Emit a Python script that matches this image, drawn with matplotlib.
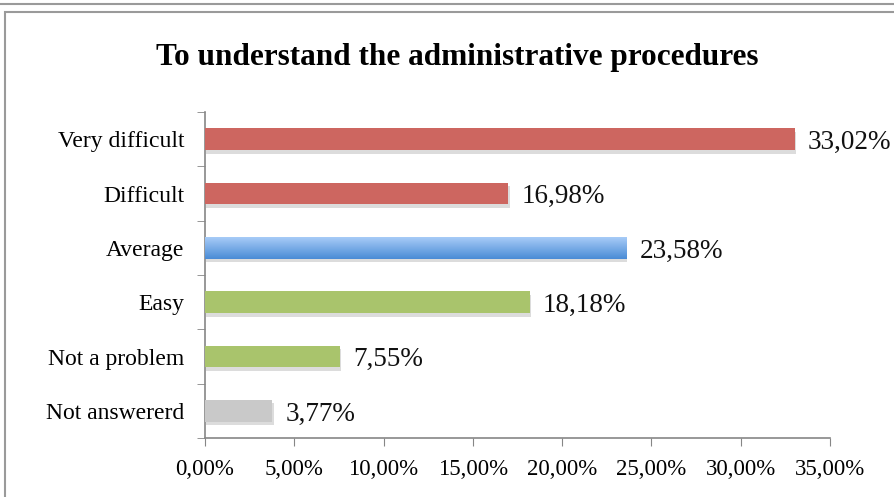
import matplotlib
matplotlib.use("Agg")
import matplotlib.pyplot as plt
import matplotlib.patheffects as pe
from matplotlib.patches import Rectangle
from matplotlib.lines import Line2D
import numpy as np

plt.rcParams['font.family'] = ['Liberation Serif', 'DejaVu Serif']

categories = ["Very difficult", "Difficult", "Average", "Easy", "Not a problem", "Not answererd"]
values = [33.02, 16.98, 23.58, 18.18, 7.55, 3.77]
colors = ["#CD6660", "#CD6660", "#6FA8E8", "#A9C46C", "#A9C46C", "#C9C9C9"]
xticks = [0, 5, 10, 15, 20, 25, 30, 35]

fig = plt.figure(figsize=(8.95, 4.97), dpi=100)
ax = fig.add_axes([205/895, 1 - 438/497, 625/895, 326/497])

y = np.arange(len(categories))
shadow = [pe.SimplePatchShadow(offset=(1, -2.5), shadow_rgbFace='#777777', alpha=0.25), pe.Normal()]
bars = ax.barh(y, values, height=0.4, color=colors, path_effects=shadow, zorder=3)

# gradient for the "Average" bar
b = bars[2]
grad = np.linspace(0, 1, 50).reshape(-1, 1)
cmap = matplotlib.colors.LinearSegmentedColormap.from_list("g", ["#A7CBF7", "#4A8CD6"])
x0, y0, w, h = b.get_x(), b.get_y(), b.get_width(), b.get_height()
ax.imshow(grad, cmap=cmap, aspect='auto', extent=[x0, x0 + w, y0 + h, y0], zorder=4)

for v, yy in zip(values, y):
    ax.text(v + 0.75, yy + 0.06, f"{v:.2f}".replace('.', ',') + '%', va='center', ha='left',
            fontsize=19.5, color='#111111')

ax.set_xlim(0, 35)
ax.set_ylim(len(categories) - 0.5, -0.5)
ax.set_xticks(xticks)
ax.set_xticklabels([f"{t:.2f}".replace('.', ',') + '%' for t in xticks], fontsize=16.5)
ax.set_yticks(y)
ax.set_yticklabels(categories, fontsize=17, va='center_baseline')
ax.tick_params(axis='y', length=0, pad=15)
ax.set_yticks(np.arange(-0.5, len(categories)), minor=True)
ax.tick_params(axis='y', which='minor', length=6, color='#868686', direction='out')
ax.tick_params(axis='x', length=6, color='#868686', pad=9)

for s in ['top', 'right']:
    ax.spines[s].set_visible(False)
for s in ['left', 'bottom']:
    ax.spines[s].set_color('#868686')
    ax.spines[s].set_linewidth(1.2)

fig.text(457/895, 1 - 58/497, "To understand the administrative procedures",
         ha='center', va='center', fontsize=22.5, fontweight='bold')

# chart frame
fig.patches.append(Rectangle((5/895, -0.05), 1.0, 1 - 12/497 + 0.05, transform=fig.transFigure,
                             fill=False, edgecolor='#9A9A9A', linewidth=1.5))
fig.lines.append(Line2D([0, 1], [1 - 4/497, 1 - 4/497], transform=fig.transFigure,
                        color='#9A9A9A', linewidth=1.5))

fig.savefig("out.png", dpi=100)
